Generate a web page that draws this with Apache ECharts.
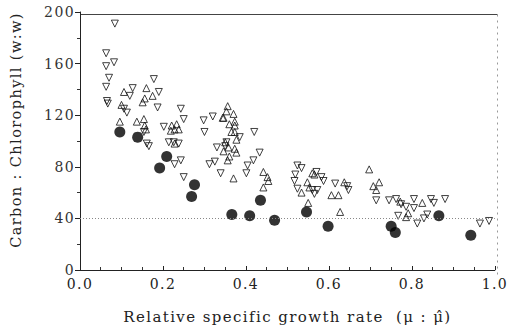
<!DOCTYPE html>
<html>
<head>
<meta charset="utf-8">
<script src="https://cdn.jsdelivr.net/npm/echarts@6/dist/echarts.min.js"></script>
<style>
  html, body { margin: 0; padding: 0; background: #fff; }
  #chart { width: 509px; height: 329px; }
  /* 打字机风格的字距 */
  #chart text { letter-spacing: 1.4px; }
</style>
</head>
<body>
<div id="chart"></div>
<script>
// 坐标轴刻度
const xTicks = [0.0, 0.2, 0.4, 0.6, 0.8, 1.0];
const yTicks = [0, 40, 80, 120, 160, 200];
const refLevel = 40;

// 倒三角 (▽) [相对比生长速率, C:Chl]
const downTri = [
  [0.084, 191], [0.063, 168], [0.063, 158], [0.082, 161], [0.070, 149], [0.063, 142],
  [0.065, 131], [0.067, 129], [0.120, 135], [0.127, 141], [0.178, 148], [0.190, 138],
  [0.187, 126], [0.106, 125], [0.113, 122], [0.154, 107], [0.161, 98], [0.166, 96],
  [0.243, 125], [0.250, 117], [0.202, 111], [0.214, 99], [0.226, 99], [0.238, 98],
  [0.298, 116], [0.300, 107], [0.320, 119], [0.330, 95], [0.350, 96], [0.353, 99],
  [0.228, 82], [0.243, 85], [0.250, 72], [0.312, 82], [0.325, 84], [0.339, 75],
  [0.385, 103], [0.420, 107], [0.433, 91], [0.418, 85], [0.404, 81], [0.401, 75],
  [0.524, 63], [0.517, 69], [0.519, 74], [0.524, 81], [0.534, 79], [0.570, 76],
  [0.582, 72], [0.587, 69], [0.560, 62], [0.572, 62], [0.565, 59], [0.615, 67],
  [0.644, 65], [0.647, 62], [0.714, 54], [0.745, 54], [0.762, 55], [0.774, 51],
  [0.786, 49], [0.805, 55], [0.805, 48], [0.846, 55], [0.853, 52], [0.880, 55],
  [0.767, 42], [0.813, 36], [0.829, 40], [0.837, 43], [0.964, 36], [0.986, 38]
];

// 正三角 (△)
const upTri = [
  [0.106, 138], [0.160, 141], [0.175, 135], [0.156, 133], [0.151, 130], [0.100, 128],
  [0.096, 115], [0.154, 117], [0.137, 115], [0.156, 112], [0.159, 109], [0.221, 112],
  [0.233, 113], [0.228, 109], [0.238, 109], [0.219, 108], [0.228, 98], [0.344, 118],
  [0.356, 127], [0.353, 123], [0.370, 121], [0.346, 118], [0.373, 115], [0.360, 113],
  [0.373, 112], [0.365, 107], [0.373, 107], [0.377, 101], [0.350, 99], [0.358, 95],
  [0.373, 94], [0.346, 92], [0.377, 91], [0.360, 88], [0.356, 85], [0.370, 71],
  [0.442, 76], [0.452, 72], [0.454, 69], [0.442, 64], [0.627, 45], [0.550, 52],
  [0.534, 60], [0.548, 68], [0.560, 75], [0.565, 74], [0.553, 64], [0.637, 68],
  [0.606, 58], [0.623, 58], [0.697, 78], [0.707, 65], [0.721, 68], [0.714, 62],
  [0.772, 53], [0.825, 52], [0.791, 44], [0.786, 41]
];

// 实心圆 (●)
const filledDots = [
  [0.096, 107], [0.139, 103], [0.209, 88], [0.192, 79], [0.276, 66], [0.269, 57],
  [0.366, 43], [0.409, 42], [0.435, 54], [0.469, 38.5], [0.546, 45], [0.598, 34],
  [0.750, 34], [0.760, 29], [0.865, 42], [0.942, 27]
];

const font = "'DejaVu Serif', serif";

let myChart = echarts.init(document.getElementById('chart'), null, { renderer: 'svg' });
let option = {
  backgroundColor: '#fff',
  animation: false,
  grid: { left: 78, right: 14, top: 12, bottom: 57 },
  xAxis: {
    type: 'value',
    min: xTicks[0],
    max: xTicks[xTicks.length - 1],
    interval: 0.2,
    name: 'Relative specific growth rate  (\u03bc : \u03bc\u0302)',
    nameLocation: 'middle',
    nameGap: 39,
    nameTextStyle: { fontFamily: font, fontSize: 15, color: '#222' },
    axisLine: { show: true, onZero: false, lineStyle: { color: '#222', width: 1 } },
    axisTick: { show: true, inside: true, length: 4, lineStyle: { color: '#222' } },
    minorTick: { show: true, splitNumber: 4, length: 3, lineStyle: { color: '#333' } },
    axisLabel: {
      fontFamily: font, fontSize: 14, color: '#222', margin: 7,
      formatter: v => v.toFixed(1)
    },
    splitLine: { show: false }
  },
  yAxis: {
    type: 'value',
    min: yTicks[0],
    max: yTicks[yTicks.length - 1],
    interval: 40,
    name: 'Carbon : Chlorophyll (w:w)',
    nameLocation: 'middle',
    nameGap: 57,
    nameTextStyle: { fontFamily: font, fontSize: 14.5, color: '#222', padding: [0, 0, 0, 22] },
    axisLine: { show: true, onZero: false, lineStyle: { color: '#222', width: 1 } },
    axisTick: { show: true, length: 5, lineStyle: { color: '#222' } },
    minorTick: { show: true, splitNumber: 2, length: 3, lineStyle: { color: '#333' } },
    axisLabel: { fontFamily: font, fontSize: 14, color: '#333', margin: 5 },
    splitLine: { show: false }
  },
  graphic: [
    { // 上边框
      type: 'line', left: 78, top: 12,
      shape: { x1: 0, y1: 0, x2: 417, y2: 0 },
      style: { stroke: '#444', lineWidth: 1 }
    },
    { // 右边框
      type: 'line', left: 495, top: 12,
      shape: { x1: 0, y1: 0, x2: 0, y2: 260 },
      style: { stroke: '#999', lineWidth: 1, lineDash: [2, 4] }
    }
  ],
  series: [
    {
      type: 'scatter',
      data: downTri,
      symbol: 'triangle',
      symbolRotate: 180,
      symbolSize: 7,
      itemStyle: { color: 'rgba(0,0,0,0)', borderColor: '#111', borderWidth: 1 },
      markLine: {
        silent: true,
        symbol: 'none',
        label: { show: false },
        lineStyle: { color: '#888', type: [1, 2], width: 1 },
        data: [{ yAxis: refLevel }]
      }
    },
    {
      type: 'scatter',
      data: upTri,
      symbol: 'triangle',
      symbolSize: 7,
      itemStyle: { color: 'rgba(0,0,0,0)', borderColor: '#111', borderWidth: 1 }
    },
    {
      type: 'scatter',
      data: filledDots,
      symbol: 'circle',
      symbolSize: 11,
      itemStyle: { color: '#000' }
    }
  ]
};
myChart.setOption(option);
</script>
</body>
</html>
